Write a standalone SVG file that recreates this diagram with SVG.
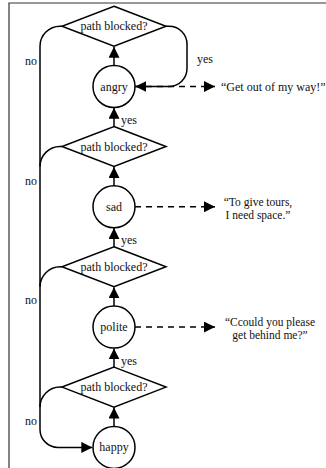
<svg xmlns="http://www.w3.org/2000/svg" width="326" height="468" viewBox="0 0 326 468">
<style>
text{font-family:"Liberation Serif","Times New Roman",serif;font-size:12px;fill:#111}
.c{text-anchor:middle}
.q{font-size:11.5px}
.n{fill:#fff;stroke:#000;stroke-width:1.5}
.l{fill:none;stroke:#000;stroke-width:1.5}
.d{fill:none;stroke:#000;stroke-width:1.5;stroke-dasharray:6,5}
</style>
<defs>
<marker id="a" markerUnits="userSpaceOnUse" markerWidth="12" markerHeight="12" refX="11" refY="5.5" orient="auto">
<path d="M0,0 L11,5.5 L0,11 z" fill="#000"/>
</marker>
</defs>
<rect width="326" height="468" fill="#fff"/>
<path d="M9,470 V3 H330" fill="none" stroke="#333" stroke-width="1.2"/>
<g id="connectors">
<path class="l" d="M114,65.5 V46.7" marker-end="url(#a)"/>
<path class="l" d="M114,126.5 V107.8" marker-end="url(#a)"/>
<path class="l" d="M114,185.8 V167" marker-end="url(#a)"/>
<path class="l" d="M114,246.8 V228.1" marker-end="url(#a)"/>
<path class="l" d="M114,306.1 V287.3" marker-end="url(#a)"/>
<path class="l" d="M114,367.1 V348.4" marker-end="url(#a)"/>
<path class="l" d="M114,426.4 V407.6" marker-end="url(#a)"/>
<path class="l" d="M166,26.2 H169 A18,18 0 0 1 187,44.2 V68.5 A18,18 0 0 1 169,86.5 H135.3" marker-end="url(#a)"/>
<path class="l" d="M62,26.2 H60 A20,20 0 0 0 40,46.2 V429.4 A18,18 0 0 0 58,447.4 H92.3" marker-end="url(#a)"/>
<path class="l" d="M62,146.5 H60 A20,20 0 0 0 40,166.5"/>
<path class="l" d="M62,266.8 H60 A20,20 0 0 0 40,286.8"/>
<path class="l" d="M62,387.1 H60 A20,20 0 0 0 40,407.1"/>
<path class="d" d="M135,86.5 H215" marker-end="url(#a)"/>
<path class="d" d="M135,206.8 H215" marker-end="url(#a)"/>
<path class="d" d="M135,327.1 H215" marker-end="url(#a)"/>
<text x="37" y="65" text-anchor="end">no</text>
<text x="37" y="184.5" text-anchor="end">no</text>
<text x="37" y="304" text-anchor="end">no</text>
<text x="37" y="424.5" text-anchor="end">no</text>
<text x="197" y="63">yes</text>
<text x="121" y="124">yes</text>
<text x="121" y="244">yes</text>
<text x="121" y="364.5">yes</text>
</g>
<g id="d1"><polygon class="n" points="114,6.2 166,26.2 114,46.2 62,26.2"/><text class="c" x="114" y="30.2">path blocked?</text></g>
<g id="angry"><circle class="n" cx="114" cy="86.5" r="21"/><text class="c" x="114" y="90.5">angry</text></g>
<g id="d2"><polygon class="n" points="114,126.5 166,146.5 114,166.5 62,146.5"/><text class="c" x="114" y="150.5">path blocked?</text></g>
<g id="sad"><circle class="n" cx="114" cy="206.8" r="21"/><text class="c" x="114" y="210.8">sad</text></g>
<g id="d3"><polygon class="n" points="114,246.8 166,266.8 114,286.8 62,266.8"/><text class="c" x="114" y="270.8">path blocked?</text></g>
<g id="polite"><circle class="n" cx="114" cy="327.1" r="21"/><text class="c" x="114" y="331.1">polite</text></g>
<g id="d4"><polygon class="n" points="114,367.1 166,387.1 114,407.1 62,387.1"/><text class="c" x="114" y="391.1">path blocked?</text></g>
<g id="happy"><circle class="n" cx="114" cy="447.4" r="21"/><text class="c" x="114" y="451.4">happy</text></g>
<g id="q1"><text x="221" y="90.5">“Get out of my way!”</text></g>
<g id="q2"><text class="c q" x="258" y="205.5">“To give tours,</text><text class="c q" x="258" y="218.5">I need space.”</text></g>
<g id="q3"><text class="c q" x="270" y="325.8">“Ccould you please</text><text class="c q" x="270" y="338.8">get behind me?”</text></g>
</svg>
